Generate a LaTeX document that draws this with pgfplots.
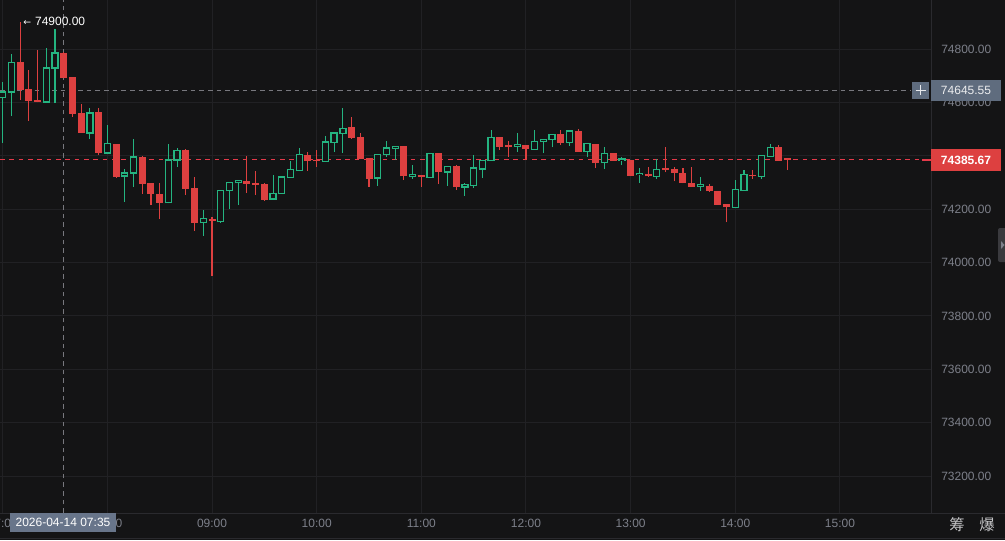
\documentclass[border=0pt]{standalone}
\usepackage{fontspec}
\setmainfont{Liberation Sans}
\newfontfamily\cjk{Noto Sans CJK SC}
\newfontfamily\dejavu{DejaVu Sans}
\usepackage{pgfplots}
\usepackage{pgfplotstable}
\pgfplotsset{compat=1.18}
\definecolor{bgc}{RGB}{20,20,21}
\definecolor{gridc}{RGB}{33,33,36}
\definecolor{sepc}{RGB}{42,42,46}
\definecolor{upg}{RGB}{36,180,128}
\definecolor{downr}{RGB}{221,64,64}
\definecolor{dashr}{RGB}{228,58,74}
\definecolor{labc}{RGB}{125,128,138}
\definecolor{slate}{RGB}{95,108,126}
\definecolor{datebox}{RGB}{104,117,138}
\definecolor{crossc}{RGB}{120,120,126}
\definecolor{cjkc}{RGB}{195,195,197}
\definecolor{tabc}{RGB}{58,58,62}
\newcommand\lf{\fontsize{9}{10.5}\selectfont}

% minutes after 07:00, open, high, low, close (5-minute candles)
\pgfplotstableread{
x o h l c
0 74620 74677 74449 74639
5 74639 74781 74549 74751
25 74602 74804 74600 74729
30 74729 74875 74598 74785
50 74486 74579 74463 74561
60 74411 74516 74408 74445
70 74325 74351 74228 74336
75 74336 74464 74284 74396
95 74224 74445 74222 74385
100 74385 74430 74359 74419
115 74150 74198 74101 74164
125 74153 74272 74150 74269
130 74269 74300 74202 74299
135 74299 74310 74217 74307
155 74238 74329 74236 74259
160 74259 74325 74258 74321
165 74319 74381 74318 74348
170 74345 74430 74344 74404
185 74380 74475 74378 74452
190 74451 74490 74416 74486
195 74485 74579 74411 74502
215 74317 74407 74288 74406
220 74406 74457 74397 74429
225 74429 74436 74385 74435
235 74323 74364 74314 74329
245 74319 74412 74318 74410
255 74339 74362 74288 74361
265 74283 74300 74250 74292
270 74289 74404 74279 74354
275 74351 74383 74317 74382
280 74382 74497 74381 74470
295 74436 74485 74416 74442
305 74425 74497 74424 74455
310 74455 74463 74410 74462
315 74462 74482 74432 74481
325 74450 74497 74437 74493
335 74416 74446 74395 74445
345 74375 74435 74350 74410
355 74382 74397 74365 74388
365 74329 74356 74300 74335
375 74323 74388 74313 74350
400 74285 74319 74269 74292
420 74207 74310 74206 74273
425 74270 74348 74269 74329
435 74323 74401 74313 74400
440 74397 74444 74396 74432
}\up

\pgfplotstableread{
x o h l c
10 74751 74900 74609 74647
15 74650 74721 74531 74606
20 74609 74796 74600 74602
35 74785 74790 74690 74692
40 74695 74697 74546 74557
45 74561 74594 74486 74486
55 74564 74579 74404 74411
65 74445 74445 74318 74321
80 74396 74400 74258 74295
85 74299 74300 74217 74258
90 74258 74299 74164 74224
105 74422 74425 74254 74277
110 74280 74321 74120 74150
120 74164 74172 73948 74157
140 74307 74400 74262 74295
145 74299 74344 74254 74292
150 74295 74300 74232 74235
175 74404 74415 74344 74382
180 74385 74422 74360 74380
200 74507 74546 74464 74468
205 74470 74486 74388 74389
210 74391 74392 74284 74314
230 74436 74437 74310 74323
240 74328 74329 74284 74319
250 74410 74411 74295 74339
260 74363 74364 74273 74283
285 74470 74471 74422 74435
290 74442 74455 74397 74435
300 74441 74442 74385 74425
320 74481 74497 74441 74450
330 74493 74500 74415 74416
340 74445 74446 74356 74375
350 74410 74411 74381 74382
360 74384 74386 74324 74325
370 74333 74360 74322 74323
380 74354 74435 74338 74348
385 74351 74360 74304 74335
390 74335 74354 74297 74298
395 74300 74357 74284 74285
405 74288 74295 74266 74267
410 74269 74270 74216 74217
415 74219 74220 74151 74207
430 74329 74348 74313 74323
445 74432 74441 74381 74382
450 74388 74390 74348 74385.67
}\dn

\pgfplotsset{
  candle/.style 2 args={draw=none, mark=none, forget plot,
    error bars/.cd, y dir=plus, y explicit, error mark=none,
    error bar style={draw=#1, line width=#2, line cap=butt}},
}

\begin{document}
\begin{tikzpicture}
\fill[bgc] (0,-20.25pt) rectangle (753.75pt,384.75pt);
\useasboundingbox (0,-20.25pt) rectangle (753.75pt,384.75pt);
\clip (0,-20.25pt) rectangle (753.75pt,384.75pt);
\begin{axis}[
  at={(0,0)}, anchor=south west,
  scale only axis, width=698.25pt, height=384.75pt,
  xmin=-1.55, xmax=532.2, ymin=73061.8, ymax=74984,
  axis line style={draw=none},
  major tick length=0pt,
  xtick={0,60,...,480},
  xticklabels={07:00,08:00,09:00,10:00,11:00,12:00,13:00,14:00,15:00},
  ytick={73200,73400,...,74800},
  scaled y ticks=false,
  yticklabel pos=right,
  grid=major,
  grid style={draw=gridc, line width=0.75pt},
  tick label style={font=\lf, text=labc},
  yticklabel style={anchor=west, inner sep=0pt, xshift=7.5pt,
    /pgf/number format/.cd, fixed, fixed zerofill, precision=2, 1000 sep={}, assume math mode=true},
  xticklabel style={anchor=center, inner sep=0pt, yshift=-7.5pt},
]
% reference lines
\addplot[color=crossc, mark=none, line width=0.75pt, dash pattern=on 3.5pt off 3pt, forget plot]
  coordinates {(35,73061.8) (35,74984)};
\addplot[color=crossc, mark=none, line width=0.75pt, dash pattern=on 3.5pt off 3pt, forget plot]
  coordinates {(-1.55,74645.55) (521,74645.55)};
\draw[draw=dashr, line width=1pt, dash pattern=on 3.5pt off 3.5pt]
  (axis cs:-1.55,74385.67) -- (axis cs:532.2,74385.67);
% wicks
\addplot[candle={upg}{0.8pt}]
  table[x=x, y=l, y error expr=\thisrow{h}-\thisrow{l}] {\up};
\addplot[candle={downr}{0.8pt}]
  table[x=x, y=l, y error expr=\thisrow{h}-\thisrow{l}] {\dn};
% down bodies (filled)
\addplot[candle={downr}{5.25pt}]
  table[x=x, y=c, y error expr={max(\thisrow{o}-\thisrow{c},5)}] {\dn};
% up bodies (hollow: green bar, then background inside)
\addplot[candle={upg}{5.5pt}]
  table[x=x, y expr=\thisrow{o}-2.4, y error expr={\thisrow{c}-\thisrow{o}+4.8}] {\up};
\addplot[candle={bgc}{3.5pt}]
  table[x=x, y expr=\thisrow{o}+2.4, y error expr={max(\thisrow{c}-\thisrow{o}-4.8,0)}] {\up};
\end{axis}
\begin{scope}[shift={(0,384.75pt)}, x=0.75pt, y=-0.75pt]
  \draw[sepc, line width=0.75pt] (931,0) -- (931,513);
  \draw[sepc, line width=0.75pt] (0,513) -- (1005,513);
  \draw[sepc, line width=0.75pt] (0,538) -- (1005,538);
  % crosshair price
  \fill[slate] (912,82) rectangle (929,99);
  \draw[white!85!slate, line width=0.8pt] (915.5,90.5) -- (925.5,90.5) (920.5,85.5) -- (920.5,95.5);
  \fill[slate] (931,80) rectangle (1001,101);
  \node[text=white!88!slate, font=\lf, inner sep=0pt] at (966,90.5) {74645.55};
  % last price
  \draw[dashr, line width=1pt] (922,160) -- (931,160);
  \fill[downr] (931,149) rectangle (1001,171);
  \node[text=white, font=\lf\bfseries, inner sep=0pt] at (966,160) {74385.67};
  % crosshair time
  \fill[datebox] (10,513) rectangle (116,532);
  \node[text=white, font=\lf, inner sep=0pt] at (63,522.5) {2026-04-14 07:35};
  % high marker
  \node[text=white, font=\lf, anchor=west, inner sep=0pt] at (23,21)
    {{\dejavu\fontsize{7}{8}\selectfont ←}\hspace{3pt}74900.00};
  % bottom right
  \node[text=cjkc, font=\cjk\fontsize{11.5}{13}\selectfont, inner sep=0pt] at (957,525) {筹};
  \node[text=cjkc, font=\cjk\fontsize{11.5}{13}\selectfont, inner sep=0pt] at (987,525) {爆};
  % side tab
  \fill[tabc, rounded corners=1.5pt] (998,228) rectangle (1010,262);
  \fill[labc] (1001,241) -- (1004.5,245) -- (1001,249) -- cycle;
\end{scope}
\end{tikzpicture}
\end{document}
